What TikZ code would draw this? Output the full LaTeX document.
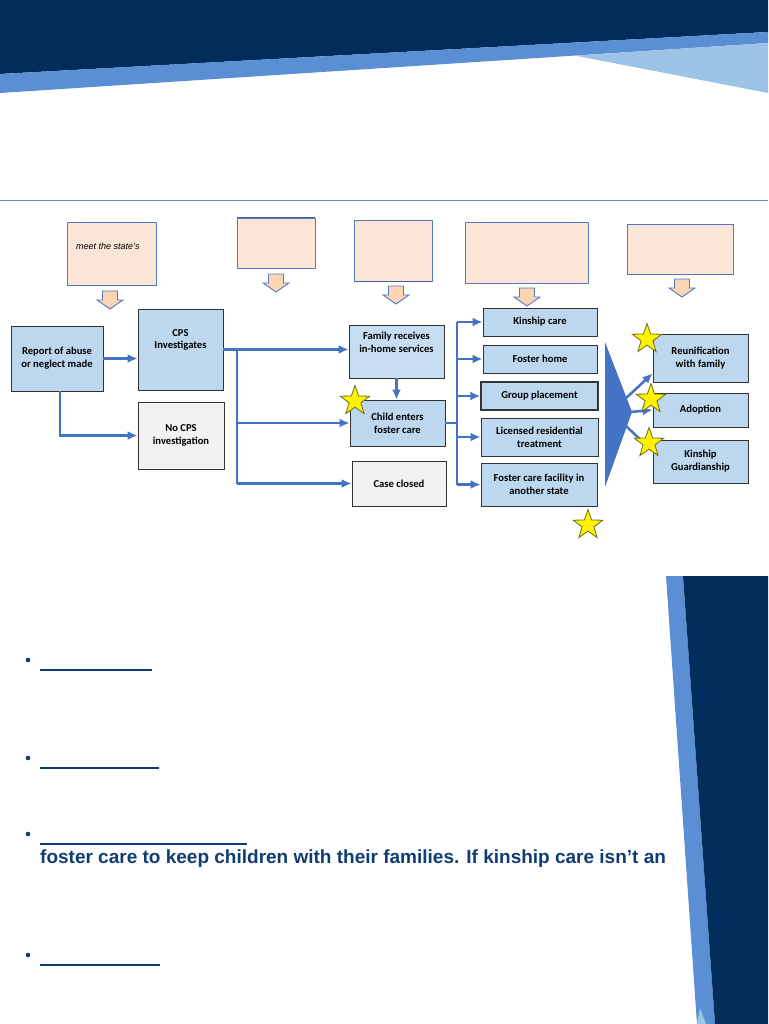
\documentclass[tikz,border=0pt]{standalone}
\usepackage{fontspec}
\setmainfont{Carlito}
\newfontfamily\arialfont{Liberation Sans}
\usetikzlibrary{shapes.geometric,arrows.meta}

\definecolor{navy}{RGB}{0,45,92}
\definecolor{stripeblue}{RGB}{91,143,212}
\definecolor{paleblue}{RGB}{157,195,230}
\definecolor{rulecol}{RGB}{110,140,205}
\definecolor{peach}{RGB}{251,229,214}
\definecolor{peachline}{RGB}{85,120,195}
\definecolor{boxblue}{RGB}{189,215,238}
\definecolor{greyfill}{RGB}{242,242,242}
\definecolor{linkblue}{RGB}{68,114,196}
\definecolor{starline}{RGB}{110,110,20}
\definecolor{textnavy}{RGB}{15,60,115}

\tikzset{
  box/.style={draw=black!80, line width=0.9pt, fill=boxblue, align=center,
    inner sep=1pt, font=\bfseries\fontsize{10.6}{12.8}\selectfont},
  greybox/.style={box, fill=greyfill},
  notebox/.style={draw=peachline, line width=0.9pt, fill=peach, inner sep=0pt},
  downarr/.style={draw=peachline, line width=0.9pt, fill=peach!80!orange!90, line join=miter},
  conn/.style={draw=linkblue, line width=2.5pt},
  starmark/.style={star, star points=5, star point ratio=2.5, minimum size=31pt,
    inner sep=0pt, draw=starline, line width=0.8pt, fill=yellow}
}

\begin{document}
\begin{tikzpicture}[x=1pt, y=-1pt, >={Latex[length=10pt,width=9pt]}]
  \useasboundingbox (0,0) rectangle (768,1024);

  % Header band
  \fill[navy] (0,0) -- (768,0) -- (768,32) -- (0,74) -- cycle;
  \fill[stripeblue] (0,74) -- (768,32) -- (768,43) -- (0,93) -- cycle;
  \fill[paleblue] (575,55.6) -- (768,43) -- (768,93) -- cycle;
  \draw[rulecol, line width=1pt] (0,201) -- (768,201);

  % Side band
  \fill[stripeblue] (666,576) -- (683,576) -- (715,1024) -- (697,1024) -- cycle;
  \fill[navy] (683,576) -- (768,576) -- (768,1024) -- (715,1024) -- cycle;
  \fill[paleblue] (697,1024) -- (700,1008) -- (706,1024) -- cycle;

  % Notes
  \node[notebox, minimum width=89pt, minimum height=63pt] (note1) at (111.5,253.5) {};
  \node[anchor=base west, inner sep=0pt, font=\arialfont\itshape\fontsize{9}{11}\selectfont]
    (note1txt) at (76,249) {meet the state’s};
  \node[notebox, minimum width=78pt, minimum height=50pt] (note2) at (276,243) {};
  \draw[peachline!80!black, line width=1.4pt] (note2.north west) -- (note2.north east);
  \node[notebox, minimum width=78pt, minimum height=61pt] (note3) at (393,250.5) {};
  \draw[peachline!80!black, line width=1.4pt] (note3.south west) -- (note3.south east);
  \node[notebox, minimum width=123pt, minimum height=61pt] (note4) at (526.5,252.5) {};
  \node[notebox, minimum width=106pt, minimum height=50pt] (note5) at (680,249) {};

  \foreach \x/\y in {110/291, 276/274, 396/286, 527/288, 682/279} {
    \draw[downarr] ({\x-7.5},\y) -- ++(15,0) -- ++(0,9) -- ++(5.5,0)
      -- ({\x},{\y+18}) -- ({\x-13},{\y+9}) -- ++(5.5,0) -- cycle;
  }

  % Steps
  \node[box, minimum width=92pt, minimum height=65pt] (report) at (57,358.5)
    {Report of abuse\\or neglect made};
  \node[box, minimum width=85pt, minimum height=81pt] (cps) at (180.5,349.5)
    {CPS\\Investigates\\[8pt]};
  \node[greybox, minimum width=86pt, minimum height=67pt] (nocps) at (181,435.5)
    {No CPS\\investigation};
  \node[box, fill=boxblue!85!white, minimum width=95pt, minimum height=53pt]
    (family) at (396.5,351.5) {Family receives\\in-home services\\[6pt]};
  \node[box, minimum width=95pt, minimum height=46pt] (child) at (397.5,423)
    {Child enters\\foster care};
  \node[greybox, minimum width=94pt, minimum height=45pt] (closed) at (399,483.5)
    {Case closed};

  % Placements
  \node[box, minimum width=114pt, minimum height=28pt] (kin) at (540,322) {Kinship care};
  \node[box, minimum width=114pt, minimum height=28pt] (fhome) at (540,359) {Foster home};
  \node[box, line width=1.3pt, minimum width=117pt, minimum height=28pt] (group) at (539.5,396)
    {Group placement};
  \node[box, minimum width=117pt, minimum height=38pt] (licensed) at (539.5,437)
    {Licensed residential\\treatment};
  \node[box, minimum width=116pt, minimum height=43pt] (facility) at (539,484.5)
    {Foster care facility in\\another state};

  % Outcomes
  \node[box, minimum width=95pt, minimum height=48pt] (reunif) at (700.5,358)
    {Reunification\\with family};
  \node[box, minimum width=95pt, minimum height=34pt] (adopt) at (700.5,410) {Adoption};
  \node[box, minimum width=95pt, minimum height=43pt] (guard) at (700.5,461.5)
    {Kinship\\Guardianship};

  % Connections
  \draw[conn, ->] (report.east) -- (report.east -| cps.west);
  \draw[conn, ->] ([xshift=3pt]report.south) |- (nocps.west);

  \coordinate (split1) at (237,0);
  \draw[conn, ->] (cps.east) -- (cps.east -| family.west);
  \draw[conn] (cps.east -| split1) -- (closed.west -| split1);
  \draw[conn, ->] (child.west -| split1) -- (child.west);
  \draw[conn, ->] (closed.west -| split1) -- (closed.west);
  \draw[conn, ->] (family.south) -- (family.south |- child.north);

  \coordinate (split2) at (457,0);
  \draw[conn] (child.east) -- (child.east -| split2);
  \draw[conn] (kin.west -| split2) -- (facility.west -| split2);
  \foreach \n in {kin, fhome, group, licensed, facility} {
    \draw[conn, ->] (\n.west -| split2) -- (\n.west);
  }

  % Fan to outcomes
  \fill[linkblue] (605,342) -- (632,412) -- (605,487) -- cycle;
  \coordinate (fan1) at (624,400);
  \coordinate (fan2) at (630,412);
  \coordinate (fan3) at (624,424);
  \draw[conn, ->] (fan1) -- ([yshift=9pt]reunif.south west);
  \draw[conn, ->] (fan2) -- (adopt.west);
  \draw[conn, ->] (fan3) -- ([yshift=-12pt]guard.north west);

  % Stars
  \node[starmark] (st1) at (355,401) {};
  \node[starmark] (st2) at (588,525) {};
  \node[starmark] (st3) at (647,339) {};
  \node[starmark] (st4) at (651,399) {};
  \node[starmark] (st5) at (649,443) {};

  % Bullets
  \foreach \y/\len in {660/112, 758/119, 834/207, 955/120} {
    \fill[textnavy] (28,\y) circle (2.3);
    \draw[textnavy, line width=2pt] (40,{\y+10}) -- ++(\len,0);
  }
  \node[anchor=base west, inner sep=0pt, text=textnavy,
    font=\arialfont\bfseries\fontsize{19}{23}\selectfont] (bodytext) at (40,863)
    {foster care to keep children with their families. If kinship care isn’t an};
\end{tikzpicture}
\end{document}
